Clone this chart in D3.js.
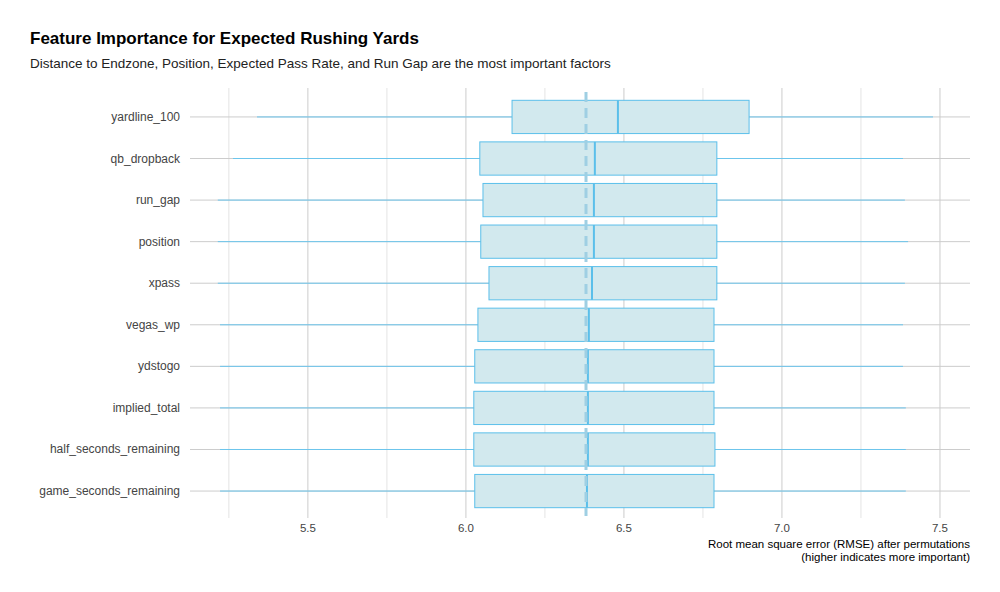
<!DOCTYPE html>
<html><head><meta charset="utf-8">
<script src="https://cdn.jsdelivr.net/npm/d3@7"></script>
<style>body{margin:0;background:#fff;font-family:"Liberation Sans",Arial,sans-serif}</style>
</head><body><svg id="chart" width="1000" height="592"></svg>
<script>
const features = ["yardline_100","qb_dropback","run_gap","position","xpass","vegas_wp","ydstogo","implied_total","half_seconds_remaining","game_seconds_remaining"];
const minV = [5.339,5.263,5.215,5.215,5.215,5.222,5.222,5.222,5.222,5.222];
const q1V  = [6.146,6.044,6.054,6.047,6.073,6.038,6.028,6.025,6.025,6.028];
const medV = [6.481,6.408,6.405,6.405,6.399,6.389,6.386,6.386,6.386,6.383];
const q3V  = [6.896,6.794,6.794,6.794,6.794,6.785,6.785,6.785,6.788,6.785];
const maxV = [7.478,7.383,7.389,7.399,7.389,7.383,7.383,7.392,7.392,7.392];
const baseline = 6.38;
const xTicks = [5.5,6.0,6.5,7.0,7.5];
const xMinor = [5.25,5.75,6.25,6.75,7.25];

const svg = d3.select("#chart");
const plotLeft = 190, plotRight = 970, plotTop = 92, plotBottom = 516;
const x = d3.scaleLinear().domain([5.127,7.595]).range([plotLeft,plotRight]);
const y = d3.scaleBand().domain(features).range([plotTop,plotBottom]).padding(0.2);

svg.append("text").attr("x",30).attr("y",44).attr("font-size",17).attr("font-weight","bold").text("Feature Importance for Expected Rushing Yards");
svg.append("text").attr("x",30).attr("y",68).attr("font-size",13.5).attr("fill","#222")
  .text("Distance to Endzone, Position, Expected Pass Rate, and Run Gap are the most important factors");

const g = svg.append("g");
g.selectAll(".minor").data(xMinor).enter().append("line")
  .attr("x1",d=>x(d)).attr("x2",d=>x(d)).attr("y1",88).attr("y2",518).attr("stroke","#ddd").attr("stroke-width",0.8);
g.selectAll(".major").data(xTicks).enter().append("line")
  .attr("x1",d=>x(d)).attr("x2",d=>x(d)).attr("y1",88).attr("y2",518).attr("stroke","#ccc").attr("stroke-width",1);
g.selectAll(".hgrid").data(features).enter().append("line")
  .attr("x1",plotLeft).attr("x2",plotRight).attr("y1",d=>y(d)+y.bandwidth()/2).attr("y2",d=>y(d)+y.bandwidth()/2)
  .attr("stroke","#ccc");

const rows = features.map((f,i)=>({f,min:minV[i],q1:q1V[i],med:medV[i],q3:q3V[i],max:maxV[i]}));
const row = g.selectAll(".row").data(rows).enter().append("g");
row.append("line").attr("x1",d=>x(d.min)).attr("x2",d=>x(d.max))
  .attr("y1",d=>y(d.f)+y.bandwidth()/2).attr("y2",d=>y(d.f)+y.bandwidth()/2).attr("stroke","#6cc5ec").attr("stroke-width",1);
row.append("rect").attr("x",d=>x(d.q1)).attr("width",d=>x(d.q3)-x(d.q1))
  .attr("y",d=>y(d.f)).attr("height",y.bandwidth()).attr("fill","#d2e9ee").attr("stroke","#5bbfea").attr("stroke-width",1);
row.append("line").attr("x1",d=>x(d.med)).attr("x2",d=>x(d.med))
  .attr("y1",d=>y(d.f)).attr("y2",d=>y(d.f)+y.bandwidth()).attr("stroke","#5bbfea").attr("stroke-width",2);

g.append("line").attr("x1",x(baseline)).attr("x2",x(baseline)).attr("y1",92).attr("y2",516)
  .attr("stroke","#9fcfe3").attr("stroke-width",3).attr("stroke-dasharray","10,6");

g.selectAll(".ylab").data(features).enter().append("text")
  .attr("x",180).attr("y",d=>y(d)+y.bandwidth()/2+4).attr("text-anchor","end").attr("font-size",12).attr("fill","#444").text(d=>d);
g.selectAll(".xlab").data(xTicks).enter().append("text")
  .attr("x",d=>x(d)).attr("y",532).attr("text-anchor","middle").attr("font-size",11.5).attr("fill","#444").text(d=>d.toFixed(1));

svg.append("text").attr("x",970).attr("y",548).attr("text-anchor","end").attr("font-size",11.5).text("Root mean square error (RMSE) after permutations");
svg.append("text").attr("x",970).attr("y",561).attr("text-anchor","end").attr("font-size",11.5).text("(higher indicates more important)");
</script></body></html>
